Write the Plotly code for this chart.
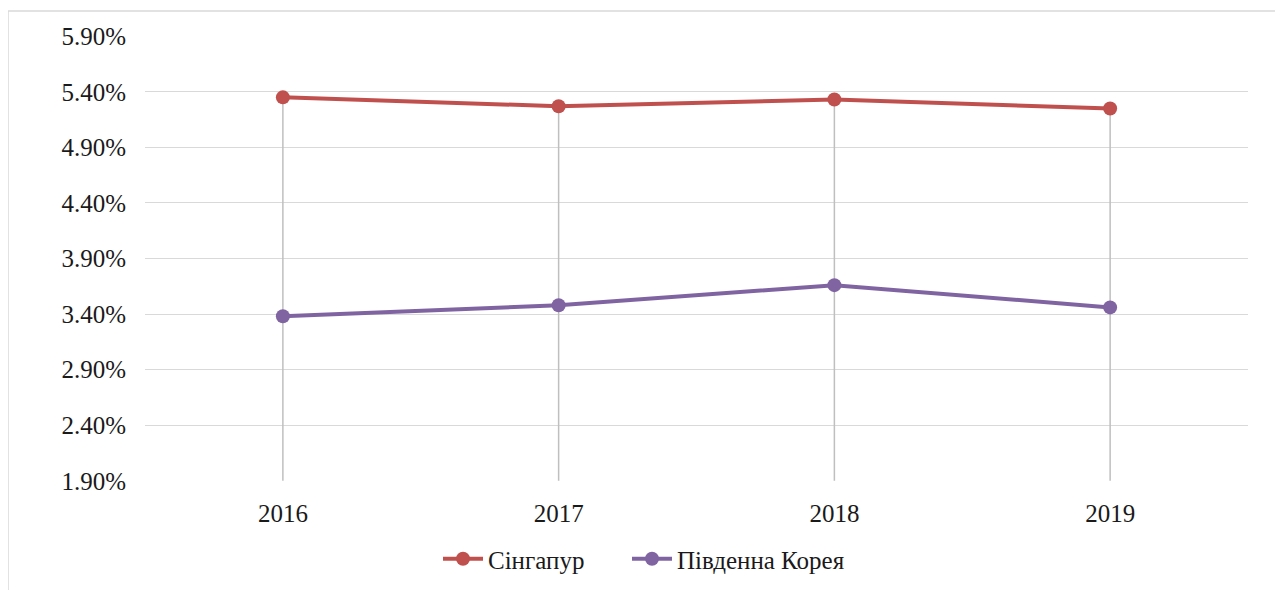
import plotly.graph_objects as go

years = ["2016", "2017", "2018", "2019"]
singapore = [5.35, 5.27, 5.33, 5.25]
korea = [3.38, 3.48, 3.66, 3.46]
series_names = ["Сінгапур", "Південна Корея"]
y_ticks = [1.90, 2.40, 2.90, 3.40, 3.90, 4.40, 4.90, 5.40, 5.90]

FONT = "Liberation Serif"
RED = "#c0504d"
PURPLE = "#8064a2"
TXT = "#1a1a1a"

y_min = y_ticks[0]
y_max = y_ticks[-1]

# drop lines from the highest point to the category axis
drop_x, drop_y = [], []
for yr, a, b in zip(years, singapore, korea):
    drop_x += [yr, yr, None]
    drop_y += [max(a, b), y_min, None]

fig = go.Figure()
fig.add_trace(go.Scatter(
    x=drop_x, y=drop_y, mode="lines",
    line=dict(color="#bfbfbf", width=1.5),
    showlegend=False, hoverinfo="skip"))
fig.add_trace(go.Scatter(
    x=years, y=singapore, name=series_names[0], mode="lines+markers",
    line=dict(color=RED, width=4), marker=dict(size=14, color=RED),
    legend="legend"))
fig.add_trace(go.Scatter(
    x=years, y=korea, name=series_names[1], mode="lines+markers",
    line=dict(color=PURPLE, width=4), marker=dict(size=14, color=PURPLE),
    legend="legend2"))

OFF = 8  # page body margin
W, H = 1283 - OFF, 648 - OFF
L = 145 - OFF
T = 36 - OFF
R = W - (1248 - OFF)
B = H - (481 - OFF)
pw, ph = W - L - R, H - T - B


def px_y(screen_y):
    return ((481 - OFF) - (screen_y - OFF)) / ph


def px_x(screen_x):
    return ((screen_x - OFF) - L) / pw


legend_common = dict(
    orientation="h", xanchor="left", yanchor="middle",
    y=px_y(559), bgcolor="rgba(0,0,0,0)",
    font=dict(family=FONT, size=25, color=TXT),
    itemwidth=40)

fig.update_layout(
    width=W, height=H,
    margin=dict(l=L, r=R, t=T, b=B, pad=0),
    paper_bgcolor="white", plot_bgcolor="white",
    font=dict(family=FONT, size=25, color=TXT),
    xaxis=dict(
        type="category", range=[-0.5, 3.5],
        showgrid=False, zeroline=False, showline=False,
        ticks="", ticklabelstandoff=15,
        tickfont=dict(family=FONT, size=25, color=TXT)),
    yaxis=dict(
        range=[y_min - 0.002, y_max + 0.002],
        tickvals=y_ticks, ticktext=[f"{v:.2f}%" for v in y_ticks],
        showgrid=True, gridcolor="#d9d9d9", gridwidth=1,
        zeroline=False, showline=False, ticks="",
        ticklabelstandoff=18,
        tickfont=dict(family=FONT, size=25, color=TXT)),
    legend=dict(x=px_x(438), **legend_common),
    legend2=dict(x=px_x(627), **legend_common),
    showlegend=True,
    shapes=[dict(
        type="rect", xref="paper", yref="paper",
        x0=px_x(8), x1=px_x(1278),
        y0=px_y(645), y1=px_y(11),
        line=dict(color="#d9d9d9", width=1.5), layer="below")],
)

fig.write_html("out.html")
